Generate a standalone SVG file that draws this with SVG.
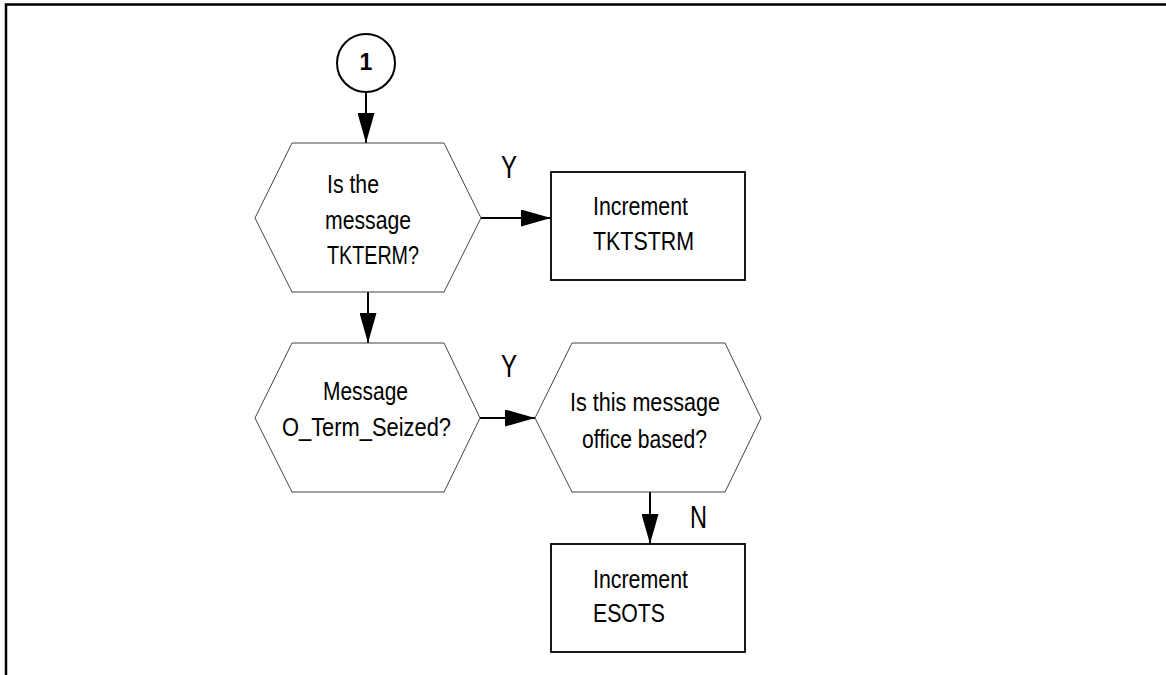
<svg xmlns="http://www.w3.org/2000/svg" width="1166" height="675" viewBox="0 0 1166 675">
<style>
.t{font-family:"Liberation Sans",Arial,sans-serif;font-size:26px;fill:#000}
.lbl{font-family:"Liberation Sans",Arial,sans-serif;font-size:32px;fill:#000}
.hex{fill:#fff;stroke:#444;stroke-width:1}
.box{fill:#fff;stroke:#000;stroke-width:1.8}
.con{stroke:#000;stroke-width:2;fill:none}
</style>
<defs>
<marker id="ah" markerUnits="userSpaceOnUse" markerWidth="30" markerHeight="17" refX="30" refY="8.5" orient="auto">
<path d="M0,0 L30,8.5 L0,17 Z" fill="#000"/>
</marker>
</defs>
<rect width="1166" height="675" fill="#fff"/>
<path d="M6,675 V4.5 H1166" fill="none" stroke="#000" stroke-width="2.5"/>
<g id="connectors">
<line class="con" x1="366" y1="92" x2="366" y2="143" marker-end="url(#ah)"/>
<line class="con" x1="481" y1="218" x2="551" y2="218" marker-end="url(#ah)"/>
<line class="con" x1="368" y1="292" x2="368" y2="343" marker-end="url(#ah)"/>
<line class="con" x1="480" y1="418" x2="535" y2="418" marker-end="url(#ah)"/>
<line class="con" x1="650" y1="492" x2="650" y2="544" marker-end="url(#ah)"/>
<text class="lbl" x="501" y="178" textLength="16" lengthAdjust="spacingAndGlyphs">Y</text>
<text class="lbl" x="501" y="377" textLength="16" lengthAdjust="spacingAndGlyphs">Y</text>
<text class="lbl" x="690" y="528" textLength="17" lengthAdjust="spacingAndGlyphs">N</text>
</g>
<g id="start">
<circle cx="366" cy="63" r="29" fill="#fff" stroke="#000" stroke-width="2"/>
<text x="366" y="70" text-anchor="middle" font-family="Liberation Sans, Arial, sans-serif" font-size="23" font-weight="bold">1</text>
</g>
<g id="q1">
<polygon class="hex" points="292,143 444,143 481,218 444,292 292,292 255,218"/>
<text class="t" x="327" y="193" textLength="52" lengthAdjust="spacingAndGlyphs">Is the</text>
<text class="t" x="325" y="229" textLength="86" lengthAdjust="spacingAndGlyphs">message</text>
<text class="t" x="327" y="264" textLength="92" lengthAdjust="spacingAndGlyphs">TKTERM?</text>
</g>
<g id="inc1">
<rect class="box" x="551" y="172" width="194" height="108"/>
<text class="t" x="593" y="215" textLength="95" lengthAdjust="spacingAndGlyphs">Increment</text>
<text class="t" x="593" y="250" textLength="101" lengthAdjust="spacingAndGlyphs">TKTSTRM</text>
</g>
<g id="q2">
<polygon class="hex" points="292,343 444,343 480,418 444,492 292,492 255,418"/>
<text class="t" x="323" y="400" textLength="85" lengthAdjust="spacingAndGlyphs">Message</text>
<text class="t" x="282" y="436" textLength="169" lengthAdjust="spacingAndGlyphs">O_Term_Seized?</text>
</g>
<g id="q3">
<polygon class="hex" points="572,343 725,343 761,418 725,492 572,492 535,418"/>
<text class="t" x="570" y="411" textLength="150" lengthAdjust="spacingAndGlyphs">Is this message</text>
<text class="t" x="582" y="448" textLength="125" lengthAdjust="spacingAndGlyphs">office based?</text>
</g>
<g id="inc2">
<rect class="box" x="551" y="544" width="194" height="108"/>
<text class="t" x="593" y="588" textLength="95" lengthAdjust="spacingAndGlyphs">Increment</text>
<text class="t" x="593" y="622" textLength="72" lengthAdjust="spacingAndGlyphs">ESOTS</text>
</g>
</svg>
